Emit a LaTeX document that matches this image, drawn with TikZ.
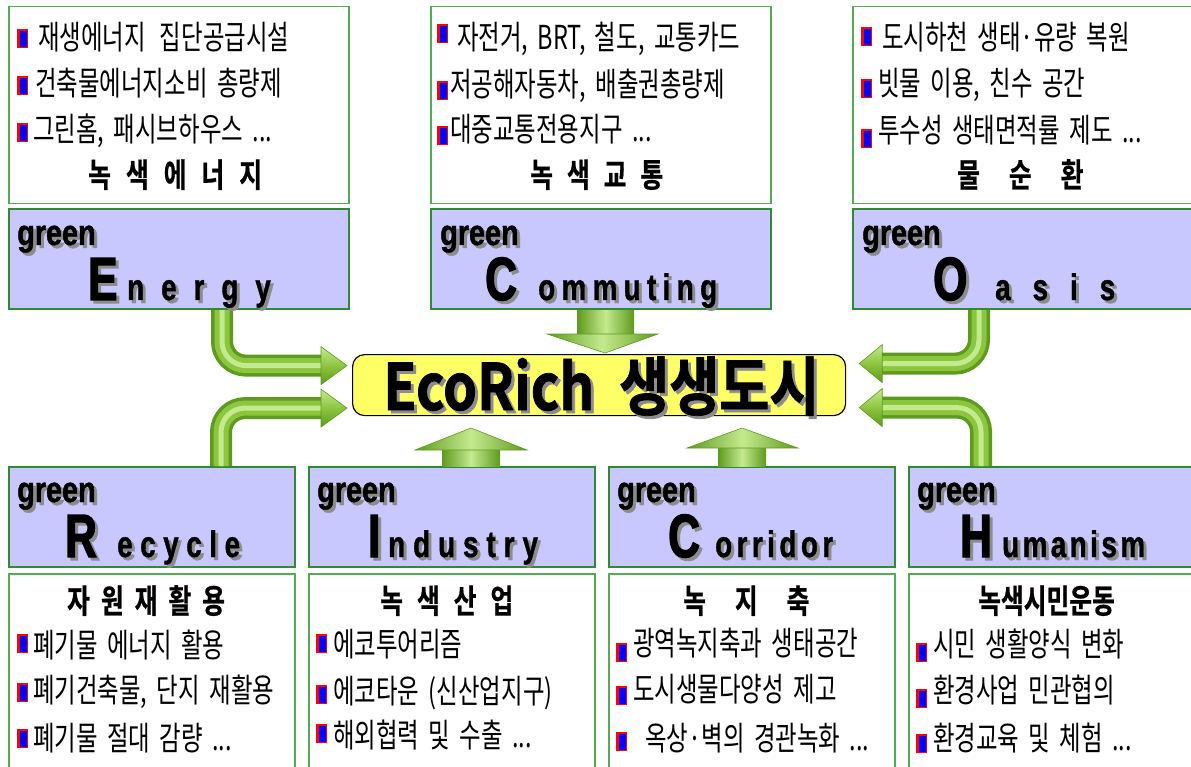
\documentclass[tikz,border=0pt]{standalone}
\usepackage{fontspec}
\usetikzlibrary{calc}
\newfontfamily\kr[FakeStretch=0.71,WordSpace=1.8]{Noto Sans CJK KR}
\newfontfamily\krb[FakeStretch=0.75,FakeBold=0.6]{Noto Sans CJK KR Bold}
\newfontfamily\ecof[FakeStretch=0.85,FakeBold=1.2]{Noto Sans CJK KR Bold}
\newfontfamily\latg[FakeStretch=0.8,FakeBold=1.2]{Liberation Sans Bold}
\newfontfamily\latbig[FakeStretch=0.72,FakeBold=2.2]{Liberation Sans Bold}
\newfontfamily\latw[FakeStretch=0.75,FakeBold=1]{Liberation Sans Bold}
\definecolor{lav}{HTML}{C8C8FF}
\definecolor{bgreen}{HTML}{2E8B34}
\definecolor{tgreen}{HTML}{55AA55}
\definecolor{shgray}{HTML}{8C8C8C}
\definecolor{ayel}{HTML}{FFFF66}
\definecolor{agA}{HTML}{5E9A1E}
\definecolor{agB}{HTML}{8CC63F}
\definecolor{agC}{HTML}{C4EA8E}
\makeatletter
\newcommand\spw[2]{\@tfor\spx:=#2\do{\spx\hspace{#1}}}
\makeatother
\newcommand\shnode[4]{%
  \node[anchor=base west, inner sep=0pt, text=shgray, #3] at ($#2+(3,3)$) {#4};
  \node[anchor=base west, inner sep=0pt, #3] (#1) at #2 {#4};}
\newcommand\bul[2]{\fill[red] (#1,#2) rectangle ++(11,19);
  \fill[blue] ($(#1,#2)+(3,2)$) rectangle ($(#1,#2)+(10,18)$);}
\newcommand\tube[1]{%
  \draw[agA,line width=22pt,rounded corners=24pt] #1;
  \draw[agB,line width=15pt,rounded corners=24pt] #1;
  \draw[agC,line width=5pt,rounded corners=24pt] #1;}
\tikzset{
  tbox/.style={draw=tgreen, line width=1.5pt, fill=white, anchor=north west, inner sep=0pt},
  lbox/.style={draw=bgreen, line width=2pt, fill=lav, anchor=north west, inner sep=0pt},
  greenf/.style={font=\latg\fontsize{36}{40}\selectfont},
  bigf/.style={font=\latbig\fontsize{61}{64}\selectfont},
  spf/.style={font=\latw\fontsize{37}{40}\selectfont},
  bodyf/.style={font=\kr\fontsize{33}{35}\selectfont, anchor=base west, inner sep=0pt},
  titlef/.style={font=\krb\fontsize{33}{35}\selectfont, anchor=base west, inner sep=0pt},
  headh/.style={top color=agC, bottom color=agA, middle color=agB, draw=agA, line width=0.6pt},
  headv/.style={left color=agA, right color=agA, middle color=agC, draw=agA, line width=0.6pt},
}
\begin{document}
\begin{tikzpicture}[x=1pt,y=-1pt]
\useasboundingbox (0,0) rectangle (1191,767);
\clip (0,0) rectangle (1191,767);
% ---------------- boxes
\node[tbox, minimum width=340pt, minimum height=197pt] (eTxt) at (8,6) {};
\node[lbox, minimum width=340pt, minimum height=100pt] (eLbl) at (8,208) {};
\node[tbox, minimum width=340pt, minimum height=197pt] (cTxt) at (430,6) {};
\node[lbox, minimum width=340pt, minimum height=100pt] (cLbl) at (430,208) {};
\node[tbox, minimum width=345pt, minimum height=197pt] (oTxt) at (852,6) {};
\node[lbox, minimum width=345pt, minimum height=100pt] (oLbl) at (852,208) {};
\node[lbox, minimum width=286pt, minimum height=100pt] (rLbl) at (8,466) {};
\node[tbox, minimum width=286pt, minimum height=200pt] (rTxt) at (8,573) {};
\node[lbox, minimum width=286pt, minimum height=100pt] (iLbl) at (308,466) {};
\node[tbox, minimum width=286pt, minimum height=200pt] (iTxt) at (308,573) {};
\node[lbox, minimum width=286pt, minimum height=100pt] (kLbl) at (608,466) {};
\node[tbox, minimum width=286pt, minimum height=200pt] (kTxt) at (608,573) {};
\node[lbox, minimum width=290pt, minimum height=100pt] (hLbl) at (908,466) {};
\node[tbox, minimum width=290pt, minimum height=200pt] (hTxt) at (908,573) {};
% ---------------- centre
\node[draw=black, line width=1.2pt, fill=ayel, rounded corners=12pt, minimum width=493pt, minimum height=61pt, anchor=north west, inner sep=0pt] (eco) at (352,354) {};
\shnode{ecoT}{(383,410)}{font=\ecof\fontsize{64}{66}\selectfont}{EcoRich\hspace{25pt}생생도시}
% ---------------- arrows
\coordinate (eS) at ($(eLbl.south west)+(214,0)$);
\coordinate (eT) at ($(eco.west)+(-5,-19.5)$);
\tube{(eS) -- (eS |- eT) -- ($(eT)+(-24,0)$)}
\draw[headh] ($(eT)+(-26,-19)$) -- (eT) -- ($(eT)+(-26,19)$) -- cycle;
\coordinate (rS) at ($(rLbl.north west)+(213,0)$);
\coordinate (rT) at ($(eco.west)+(-5,23)$);
\tube{(rS) -- (rS |- rT) -- ($(rT)+(-24,0)$)}
\draw[headh] ($(rT)+(-26,-19)$) -- (rT) -- ($(rT)+(-26,19)$) -- cycle;
\coordinate (oS) at ($(oLbl.south west)+(127,0)$);
\coordinate (oT) at ($(eco.east)+(13,-21.5)$);
\tube{(oS) -- (oS |- oT) -- ($(oT)+(22,0)$)}
\draw[headh] ($(oT)+(23,-19)$) -- (oT) -- ($(oT)+(23,19)$) -- cycle;
\coordinate (hS) at ($(hLbl.north west)+(73,0)$);
\coordinate (hT) at ($(eco.east)+(13,22.5)$);
\tube{(hS) -- (hS |- hT) -- ($(hT)+(22,0)$)}
\draw[headh] ($(hT)+(23,-19)$) -- (hT) -- ($(hT)+(23,19)$) -- cycle;
% commuting down arrow
\coordinate (cS) at ($(cLbl.south west)+(175,0)$);
\coordinate (cT) at ($(cS |- eco.north)+(0,-1)$);
\shade[left color=agA, right color=agA, middle color=agC] ($(cS)+(-28,0)$) rectangle ($(cS)+(29,25)$);
\draw[headv] ($(cS)+(-58,24)$) -- ($(cS)+(53,24)$) -- (cT) -- cycle;
% industry up arrow
\coordinate (iS) at ($(iLbl.north west)+(163,0)$);
\coordinate (iT) at ($(iS)+(0,-38)$);
\shade[left color=agA, right color=agA, middle color=agC] ($(iS)+(-29,0)$) rectangle ($(iS)+(29,-17)$);
\draw[headv] ($(iS)+(-56,-16)$) -- ($(iS)+(56,-16)$) -- (iT) -- cycle;
% corridor up arrow
\coordinate (kS) at ($(kLbl.north west)+(134,0)$);
\coordinate (kT) at ($(kS)+(0,-38)$);
\shade[left color=agA, right color=agA, middle color=agC] ($(kS)+(-24,0)$) rectangle ($(kS)+(24,-19)$);
\draw[headv] ($(kS)+(-55,-18)$) -- ($(kS)+(56,-18)$) -- (kT) -- cycle;
% ---------------- labels
\shnode{eG}{(17,245)}{greenf}{green}
\shnode{eB}{(88,300)}{bigf}{E}
\shnode{eW}{(127,300)}{spf}{\spw{17pt}{nergy}}
\shnode{cG}{(440,245)}{greenf}{green}
\shnode{cB}{(485,300)}{bigf}{C}
\shnode{cW}{(538,300)}{spf}{\spw{6.4pt}{ommuting}}
\shnode{oG}{(862,245)}{greenf}{green}
\shnode{oB}{(933,300)}{bigf}{O}
\shnode{oW}{(995,300)}{spf}{\spw{22pt}{asis}}
\shnode{rG}{(17,502)}{greenf}{green}
\shnode{rB}{(65,557)}{bigf}{R}
\shnode{rW}{(117,557)}{spf}{\spw{7.6pt}{ecycle}}
\shnode{iG}{(317,502)}{greenf}{green}
\shnode{iB}{(368,557)}{bigf}{I}
\shnode{iW}{(388,557)}{spf}{\spw{8pt}{ndustry}}
\shnode{kG}{(617,502)}{greenf}{green}
\shnode{kB}{(668,557)}{bigf}{C}
\shnode{kW}{(715,557)}{spf}{\spw{4.5pt}{orridor}}
\shnode{hG}{(917,502)}{greenf}{green}
\shnode{hB}{(960,557)}{bigf}{H}
\shnode{hW}{(1002,557)}{spf}{\spw{3.5pt}{umanism}}
% ---------------- energy text
\bul{17}{29} \node[bodyf] (e1) at (38,50) {재생에너지\hspace{14pt}집단공급시설};
\bul{17}{76} \node[bodyf] (e2) at (35,96) {건축물에너지소비 총량제};
\bul{17}{123} \node[bodyf] (e3) at (33,142) {그린홈, 패시브하우스 ...};
\node[titlef] (eH) at (88,187) {\spw{15pt}{녹색에너지}};
% commuting text
\bul{437}{24} \node[bodyf] (c1) at (457,50) {자전거, BRT, 철도, 교통카드};
\bul{437}{81} \node[bodyf] (c2) at (450,97) {저공해자동차, 배출권총량제};
\bul{437}{126} \node[bodyf] (c3) at (450,142) {대중교통전용지구 ...};
\node[titlef] (cH) at (530,187) {\spw{14pt}{녹색교통}};
% oasis text
\bul{861}{27} \node[bodyf] (o1) at (882,50) {도시하천 생태·유량 복원};
\bul{861}{79} \node[bodyf] (o2) at (878,96) {빗물 이용, 친수 공간};
\bul{861}{129} \node[bodyf] (o3) at (878,143) {투수성 생태면적률 제도 ...};
\node[titlef] (oH) at (957,187) {\spw{29pt}{물순환}};
% recycle text
\node[titlef] (rH) at (67,613) {\spw{11pt}{자원재활용}};
\bul{17}{634} \node[bodyf] (r1) at (33,657) {폐기물 에너지 활용};
\bul{17}{683} \node[bodyf] (r2) at (33,702) {폐기건축물, 단지 재활용};
\bul{17}{729} \node[bodyf] (r3) at (33,750) {폐기물 절대 감량 ...};
% industry text
\node[titlef] (iH) at (380,613) {\spw{14pt}{녹색산업}};
\bul{316}{634} \node[bodyf] (i1) at (333,656) {에코투어리즘};
\bul{316}{685} \node[bodyf] (i2) at (333,703) {에코타운 (신산업지구)};
\bul{316}{724} \node[bodyf] (i3) at (333,747) {해외협력 및 수출 ...};
% corridor text
\node[titlef] (kH) at (683,613) {\spw{29pt}{녹지축}};
\bul{616}{643} \node[bodyf] (k1) at (633,655) {광역녹지축과 생태공간};
\bul{616}{686} \node[bodyf] (k2) at (633,701) {도시생물다양성 제고};
\bul{616}{732} \node[bodyf] (k3) at (645,750) {옥상·벽의 경관녹화 ...};
% humanism text
\node[titlef] (hH) at (978,613) {녹색시민운동};
\bul{916}{643} \node[bodyf] (h1) at (933,656) {시민 생활양식 변화};
\bul{916}{689} \node[bodyf] (h2) at (933,702) {환경사업 민관협의};
\bul{916}{734} \node[bodyf] (h3) at (933,750) {환경교육 및 체험 ...};
\end{tikzpicture}
\end{document}
